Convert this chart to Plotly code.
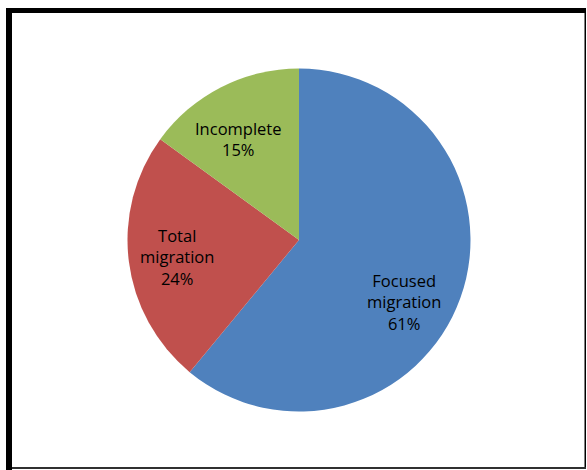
import plotly.graph_objects as go

labels = ["Focused migration", "Total migration", "Incomplete"]
values = [61, 24, 15]
colors = ["#4F81BD", "#C0504D", "#9BBB59"]
label_lines = ["Focused<br>migration", "Total<br>migration", "Incomplete"]

W, H = 587, 470
cx, cy, r = 299, 240, 171.5

# label placement (pixel centres of the text blocks, layout only)
label_pos = [(403.5, 301.5), (176.5, 257), (238.5, 139)]

fig = go.Figure(go.Pie(
    labels=labels,
    values=values,
    sort=False,
    direction="clockwise",
    rotation=0,
    marker=dict(colors=colors, line=dict(width=0)),
    textinfo="none",
    hoverinfo="label+percent",
    showlegend=False,
    domain=dict(x=[(cx - r) / W, (cx + r) / W], y=[1 - (cy + r) / H, 1 - (cy - r) / H]),
))

def px_x(x):
    return x / W

def px_y(y):
    return 1 - y / H

total = sum(values)
annotations = []
for lines, v, (lx, ly) in zip(label_lines, values, label_pos):
    pct = round(100 * v / total)
    annotations.append(dict(
        xref="paper", yref="paper", x=px_x(lx), y=px_y(ly),
        xanchor="center", yanchor="middle",
        text=f"{lines}<br>{pct}%", showarrow=False, align="center",
        font=dict(family="Open Sans", size=16.5, color="#000000"),
    ))

shapes = [
    dict(type="rect", xref="paper", yref="paper", x0=px_x(6), x1=px_x(12), y0=px_y(470), y1=px_y(8),
         fillcolor="#000000", line=dict(width=0)),
    dict(type="rect", xref="paper", yref="paper", x0=px_x(6), x1=px_x(586), y0=px_y(13), y1=px_y(8),
         fillcolor="#000000", line=dict(width=0)),
    dict(type="rect", xref="paper", yref="paper", x0=px_x(584.5), x1=px_x(586), y0=px_y(469), y1=px_y(8),
         fillcolor="#000000", line=dict(width=0)),
    dict(type="rect", xref="paper", yref="paper", x0=px_x(12), x1=px_x(586), y0=px_y(469), y1=px_y(467),
         fillcolor="#303030", line=dict(width=0)),
]

fig.update_layout(
    width=W, height=H,
    margin=dict(l=0, r=0, t=0, b=0),
    paper_bgcolor="#FFFFFF",
    plot_bgcolor="#FFFFFF",
    shapes=shapes,
    annotations=annotations,
)

fig.write_html("out.html")
